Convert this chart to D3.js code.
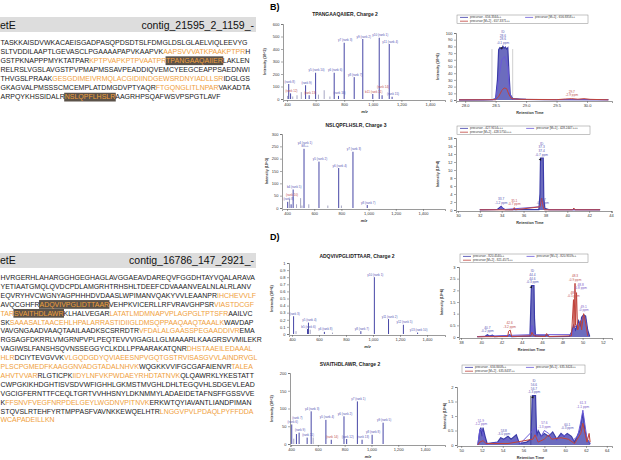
<!DOCTYPE html>
<html><head><meta charset="utf-8">
<script src="https://cdn.jsdelivr.net/npm/d3@7"></script>
<style>
body{margin:0;background:#fff}
svg{display:block}
text{font-family:"Liberation Sans",Arial,Helvetica,sans-serif}
</style>
</head><body>
<svg id="c" width="621" height="460"></svg>
<script>
// ---------------- DATA ----------------
const seqTopHeader = ["etE", "contig_21595_2_1159_-"];
const seqTop = [
  [["TASKKAISDVWKACAEISGADPASQPDSDTSLFDMGLDSLGLAELVIQLEEVYG","k"]],
  [["SLTVDDILAAPTLGEVASCLPGAAAAPAPVKAAPVK","k"],["AAPSVVVATKPAAKPTPR","o"],["H","k"]],
  [["GSTPKNAPPPMYKTATPAR","k"],["KPTPVAPKPTPVAATPR","o"],["TPANGAAQAIIER","h"],["LAKLEN","k"]],
  [["RELRSLVGSLAVGSTPVPMAPMSSAVPEADDIQVEMCYEEGCEAPPSAEDNWI","k"]],
  [["THVGSLPRAAK","k"],["GESGDIMEIVRMQLACGIDIINDGEWSRDNYIADLLSR","o"],["IDGLGS","k"]],
  [["GKAGVALPMSSSCMCEMPLATDMGDVPTYAQR","k"],["FTGQNGLITLNPAR","o"],["VAKADTA","k"]],
  [["ARPQYKHSSIDALR","k"],["NSLQPFLHSLR","h"],["AAGRHPSQAFWSVPSPGTLAVF","k"]]
];
const seqBotHeader = ["etE", "contig_16786_147_2921_-"];
const seqBot = [
  [["HVRGERHLAHARGGHGEGHAGLAVGGAEAVDAREQVFGGDHTAYVQALARAVA","k"]],
  [["YETIAATGMQLQVDCPDLAMGRHTRHSHLTDEEFCDVAAANVEALNLALRLANV","k"]],
  [["EQVRYHVCWGNYAGPHHHDVDAASLWPIMANVQAKYVVLEAANPR","k"],["IHCHEVVLF","o"]],
  [["AVQCGHFR","k"],["ADQVIVPGLIDTTAAR","h"],["VEHPKVICERLLRFVRAVGHPSR","k"],["VIASTDCGF","o"]],
  [["TAR","o"],["SVAITHDLAWR","h"],["KLHALVEGAR","k"],["LATATLMDMNAPVPLAGPGLTPTSFR","o"],["AAILVC","k"]],
  [["SK","k"],["SAAASALTAACEHLHPALARRASTIDIIGLDMSQPPAAQAAQTAAALK","o"],["WAVDAP","k"]],
  [["VAVGNGAADVAAQTAAILAADKSCSRRDTR","k"],["VFDALALGAASSPEGAADDIVR","o"],["EMA","k"]],
  [["RGSAGFDKRRLVMGRNPVPLPEQTEVVVIGAGLLGLMAAARLKAAGRSVVMILEKR","k"]],
  [["VAGIWSLFANSHSQVNSSEGGYCLKDLLPPAARAKATQNR","k"],["DHSTAAEILEDAAAL","o"]],
  [["HLR","o"],["DCIYTEVGVVK","k"],["VLGQDGDYQVIAEESNPVGQTGSTRVISASGVVLAINDRVGL","o"]],
  [["PLSCPGMEDFKAAGGNVADGTADALNHVK","o"],["WQGKKVVIFGCGAFAIENVR","k"],["TALEA","o"]],
  [["AHVTVVAR","o"],["RLGTICPK","k"],["IIDYLNFVKPWDAEYRHDTATNVK","o"],["QLQAWRKLYKESTATT","k"]],
  [["CWPGKIKHDGHTISVSDVWFIGHHLGKMSTMVGHLDHLTEGQVHLSDGEVLEAD","k"]],
  [["VGCIGFERNTTFCEQLTGRTVVHHSNYLDKNMMYLADAEIDETAFNSFFGSSVVE","k"]],
  [["K","k"],["FFSNVFVEGFNRPDELGEYLWGDNVPITNVK","o"],["ERKWTQYIAVANTLIANDPIMAN","k"]],
  [["STQVSLRTEHFYRTMPPASFVAVNKKEWQELHTR","k"],["LNGGVPVLPDAQLPYFFDDA","o"]],
  [["WCAPADEILLKN","o"]]
];

// Spectra peaks: [m/z, intensity, label, label colour kind]
const specB1Title = "TPANGAAQAIIER, Charge 2";
const specB1Peaks = [
  [404, 25, "", ""], [412, 120, "(rank 8)", "b"], [425, 45, "(rank 12)", "r"], [440, 20, "", ""],
  [470, 30, "", ""], [500, 55, "", ""], [530, 110, "(rank 9)", "b"], [555, 30, "(rank 13)", "r"],
  [600, 210, "y5 (rank 10)", "b"], [620, 35, "", ""], [660, 70, "", ""], [700, 20, "", ""],
  [730, 210, "y6 (rank 6)", "b"], [760, 25, "(rank 16)", "b"], [800, 450, "y7 (rank 3)", "b"],
  [870, 175, "y8 (rank 7)", "b"], [930, 480, "y9 (rank 2)", "b"], [1000, 40, "b11 (rank 11)", "r"],
  [1045, 490, "y10 (rank 1)", "b"], [1065, 30, "(rank 14)", "r"], [1115, 440, "y11 (rank 4)", "b"],
  [1135, 18, "(rank 15)", "b"]
];
const specB2Title = "NSLQPFLHSLR, Charge 3";
const specB2Peaks = [
  [405, 25, "(rank 8)", "b"], [418, 35, "", ""], [430, 15, "(rank 10)", "r"], [445, 75, "b4 (rank 5)", "b"],
  [470, 15, "", ""], [500, 40, "", ""], [510, 10, "", ""], [525, 240, "y4 (rank 1)\nb8++", "b"],
  [560, 15, "", ""], [635, 188, "y5 (rank 2)", "b"], [700, 10, "", ""], [780, 162, "y6 (rank 4)", "b"],
  [800, 10, "", ""], [885, 228, "y7 (rank 3)", "b"], [990, 12, "y8 (rank 7)", "b"]
];
const specD1Title = "ADQVIVPGLIDTTAAR, Charge 2";
const specD1Peaks = [
  [412, 0.25, "(rank 3)", "b"], [430, 0.04, "", ""], [515, 0.07, "b5 (rank 6)", "b"], [522, 0.16, "y5 (rank 4)", "b"],
  [535, 0.06, "", ""], [640, 0.03, "y6 (rank 8)", "b"], [700, 0.02, "", ""], [910, 0.04, "y8 (rank 7)", "b"],
  [1010, 0.8, "y10 (rank 1)", "b"], [1115, 0.21, "y11 (rank 2)", "b"], [1225, 0.13, "y12 (rank 5)", "b"],
  [1330, 0.02, "y13 (rank 10)", "b"]
];
const specD2Title = "SVAITHDLAWR, Charge 2";
const specD2Peaks = [
  [405, 55, "(rank 6)", "b"], [420, 15, "", ""], [440, 28, "(rank 7)", "b"], [460, 32, "(rank 9)", "b"],
  [520, 18, "(rank 11)", "b"], [550, 92, "y4 (rank 3)", "b"], [565, 18, "", ""], [660, 68, "y5 (rank 4)", "b"],
  [700, 12, "(rank 14)", "r"], [795, 78, "y6 (rank 2)", "b"], [815, 14, "(rank 12)", "b"],
  [895, 120, "y7 (rank 1)", "b"], [930, 12, "(rank 13)", "b"], [1005, 26, "y8 (rank 8)", "b"],
  [1087, 60, "y9 (rank 5)", "b"]
];

// Chromatograms: [retention time, intensity]
const chB1Legend = ["precursor - 656.3344++", "precursor [M+2] - 657.3371++", "precursor [M+1] - 656.8358++"];
const chB1Blue = [[27.9,0.3],[28.3,0.3],[28.45,0.5],[28.5,2],[28.53,30],[28.55,75],[28.57,78],[28.6,76],[28.62,80],[28.64,77],[28.66,79],[28.68,76],[28.7,78],[28.72,40],[28.74,8],[28.78,2],[28.9,1.5],[29.0,0.8],[29.3,0.5],[29.7,0.5],[30.0,0.6],[30.35,0.4]];
const chB1Red = [[27.9,0.2],[28.5,0.5],[28.55,5],[28.6,14],[28.64,18],[28.68,17],[28.72,8],[28.76,2],[28.9,1],[29.5,0.5],[29.65,1.5],[29.75,2],[29.85,1.2],[29.95,2],[30.05,1],[30.35,0.3]];
const chB1Purple = [[27.9,0.2],[28.5,0.5],[28.55,30],[28.6,60],[28.65,65],[28.7,50],[28.73,10],[28.78,1],[30.35,0.3]];
const chB1Bounds = [[28.44, 76], [28.78, 76]];
const chB1Notes = [[28.62, 80, ["ID","28.6","28.6","-0.1 ppm"], "b"], [29.75, 2, ["29.7","-2.9 ppm"], "r"]];

const chB2Legend = ["precursor - 427.9154+++", "precursor [M+2] - 428.5750+++", "precursor [M+1] - 428.2447+++"];
const chB2Blue = [[32.0,0.1],[33.6,0.15],[33.85,0.7],[33.95,0.9],[34.1,0.4],[34.3,0.1],[37.4,0.1],[37.5,4],[37.55,13],[37.8,13],[37.85,3],[37.95,0.4],[38.3,0.1],[40.0,0.1],[43.0,0.1]];
const chB2Red = [[32.0,0.05],[35.05,0.05],[35.15,0.6],[35.25,0.05],[37.5,0.8],[37.65,3],[37.8,0.8],[37.9,0.05],[40.5,0.05],[40.6,0.5],[40.7,0.05],[43.0,0.05]];
const chB2Purple = [[32.0,0.05],[33.7,0.1],[33.9,0.6],[34.0,0.7],[34.15,0.1],[37.5,0.8],[37.65,2.8],[37.8,0.8],[37.9,0.1],[43.0,0.05]];
const chB2Bounds = [];
const chB2Notes = [[37.65, 13, ["ID","37.3","37.4","-0.7 ppm"], "b"], [33.95, 0.9, ["33.7","-1.2 ppm"], "b"], [35.15, 0.6, ["35.1","-0.7 ppm"], "r"], [37.75, 0.8, ["37.7","-0.1 ppm"], "b"]];

const chD1Legend = ["precursor - 820.4540++", "precursor [M+2] - 821.4571++", "precursor [M+1] - 820.9559++"];
const chD1Blue = [[39.6,0.02],[40.4,0.03],[40.6,0.1],[40.8,0.04],[41.1,0.08],[41.3,0.02],[42.6,0.05],[42.8,0.1],[43.0,0.02],[44.8,0.05],[44.9,1.5],[44.95,2.2],[45.2,2.2],[45.25,0.8],[45.35,0.05],[46.3,0.05],[46.5,0.1],[46.7,0.02],[48.7,0.03],[48.9,0.2],[49.1,0.5],[49.3,0.3],[49.6,0.7],[49.8,0.5],[49.9,0.85],[50.1,0.95],[50.3,0.9],[50.5,0.3],[50.7,0.02]];
const chD1Red = [[39.6,0.01],[42.6,0.02],[42.7,0.25],[42.85,0.3],[43.0,0.02],[44.9,0.05],[45.0,0.2],[45.2,0.05],[46.3,0.02],[46.45,0.15],[46.6,0.02],[48.9,0.05],[49.1,1.6],[49.15,0.4],[49.25,2.3],[49.3,0.5],[49.4,1.9],[49.5,0.3],[49.6,0.4],[49.8,0.7],[49.9,0.3],[50.1,1.0],[50.3,0.6],[50.5,0.05]];
const chD1Purple = [[39.6,0.02],[44.9,0.1],[45.0,0.5],[45.2,0.1],[49.0,0.1],[49.2,0.4],[49.4,0.5],[49.7,0.6],[49.9,0.7],[50.1,0.9],[50.3,0.7],[50.5,0.05]];
const chD1Bounds = [];
const chD1Notes = [[45.05, 2.2, ["ID","44.4","44.6","-0.3 ppm"], "b"], [49.25, 2.3, ["48.3","-0.9 ppm"], "r"], [49.1, 1.6, ["48.1","-0.5 ppm"], "r"], [50.1, 1.0, ["49.1","-0 ppm"], "p"], [49.8, 0.7, ["48.8","-0.8 ppm"], "p"], [42.8, 0.3, ["42.6","-3.2 ppm"], "r"], [40.6, 0.1, ["40.7","-0.2 ppm"], "b"]];

const chD2Legend = ["precursor - 634.8408++", "precursor [M+2] - 635.8437++", "precursor [M+1] - 635.3424++"];
const chD2Blue = [[51.6,0],[51.8,0.5],[51.9,0.6],[52.0,0.3],[52.1,0.6],[52.3,0.3],[52.5,0.05],[53.5,0.1],[53.8,0.25],[54.1,0.2],[54.5,0.3],[54.8,0.2],[55.3,0.35],[55.6,0.05],[56.3,0.1],[56.7,0.2],[56.85,1.7],[57.15,1.7],[57.25,0.3],[57.4,0.5],[57.7,0.3],[58.0,0.4],[58.4,0.3],[58.8,0.45],[59.2,0.2],[59.6,0.4],[59.9,0.3],[60.2,0.4],[60.6,0.3],[60.9,0.1],[61.4,0.5],[61.7,1.1],[61.9,0.5],[62.1,0.2],[62.4,0.05]];
const chD2Red = [[51.6,0],[51.8,0.1],[52.1,0.15],[52.4,0.05],[54.5,0.05],[56.9,0.2],[57.1,0.35],[57.4,0.1],[58.0,0.2],[58.4,0.35],[58.7,0.2],[59.6,0.25],[60.3,0.2],[60.9,0.05],[61.5,0.4],[61.7,0.75],[61.9,0.4],[62.1,0.1],[62.3,0.4],[62.4,0.1]];
const chD2Purple = [[51.6,0],[51.8,0.55],[52.0,0.5],[52.2,0.2],[52.4,0.02],[53.8,0.1],[54.3,0.2],[54.8,0.1],[55.3,0.2],[55.6,0.02],[56.9,0.5],[57.1,0.6],[57.3,0.1],[57.7,0.3],[58.0,0.5],[58.4,0.4],[58.7,0.3],[59.2,0.15],[59.7,0.35],[60.2,0.3],[60.7,0.15],[61.2,0.3],[61.5,0.8],[61.7,1.2],[61.9,0.7],[62.1,0.2],[62.4,0.05]];
const chD2Bounds = [[56.7, 1.7]];
const chD2Notes = [[57.0, 1.7, ["ID","56.6","56.7","-1.3 ppm"], "b"], [51.9, 0.6, ["51.9","-1.2 ppm"], "p"], [54.1, 0.25, ["53.8","-3.0 ppm"], "b"], [61.7, 1.2, ["61.3","-1.1 ppm"], "p"], [60.2, 0.45, ["60.1","-0.3 ppm"], "b"], [58.0, 0.5, ["57.6","-1.3 ppm"], "p"]];

const panelLabels = ["B)", "D)"];

// ---------------- DRAWING ----------------
const svg = d3.select("#c");
const ORANGE = "#f0a03c", HILITE = "#5b5249";
const C = {b: "#3b3ba8", r: "#c0433b", p: "#6a5ad8"};
const LBL = {b: "#5454b4", r: "#c05050", p: "#7a5ac8"};

function drawSeq(header, lines, barY0, barY1, hdrBase, firstBase, step, targetEnd) {
  const g = svg.append("g");
  g.append("rect").attr("x", 0).attr("y", barY0).attr("width", 256).attr("height", barY1 - barY0).attr("fill", "#dddddd");
  g.append("text").attr("x", 0).attr("y", hdrBase).attr("font-size", 10.5).attr("fill", "#111").text(header[0]);
  g.append("text").attr("x", 254).attr("y", hdrBase).attr("font-size", 10.5).attr("fill", "#111").attr("text-anchor", "end").text(header[1]);
  const texts = lines.map((segs, i) => {
    const t = g.append("text").attr("x", 0.5).attr("y", firstBase + i * step).attr("font-size", 7);
    segs.forEach(s => t.append("tspan").text(s[0]).attr("fill", s[1] === "k" ? "#1a1a1a" : ORANGE));
    return t;
  });
  const L = texts[0].node().getComputedTextLength();
  const fs = 7 * (targetEnd - 0.5) / L;
  texts.forEach(t => t.attr("font-size", fs));
  texts.forEach((t, i) => {
    let idx = 0;
    lines[i].forEach(s => {
      if (s[1] === "h") {
        const n = t.node();
        const x0 = n.getStartPositionOfChar(idx).x;
        const x1 = n.getEndPositionOfChar(idx + s[0].length - 1).x;
        g.insert("rect", () => n).attr("x", x0 - 0.5).attr("y", firstBase + i * step - fs * 0.95)
          .attr("width", x1 - x0 + 1).attr("height", fs * 1.25).attr("fill", HILITE);
      }
      idx += s[0].length;
    });
  });
}

drawSeq(seqTopHeader, seqTop, 17, 32, 28.5, 44.8, 9.1, 248);
drawSeq(seqBotHeader, seqBot, 253, 268, 264, 280, 8.9, 255);

svg.selectAll("text.pl").data(panelLabels).join("text").attr("class", "pl")
  .attr("x", 270).attr("y", (d, i) => i ? 240 : 10).attr("font-size", 9).attr("font-weight", "bold").text(d => d);

function styleAxis(a) {
  a.select(".domain").attr("stroke", "#555").attr("stroke-width", 0.6);
  a.selectAll(".tick line").attr("stroke", "#555").attr("stroke-width", 0.5);
  a.selectAll(".tick text").attr("font-size", 4).attr("fill", "#333").attr("font-family", "Liberation Sans, Arial, sans-serif");
}

// shift a label group upward until it no longer overlaps labels already placed
function avoid(gsel, placed) {
  const bb = gsel.node().getBBox();
  let dy = 0;
  const hit = () => placed.some(p => bb.x < p.x + p.w && bb.x + bb.width > p.x &&
    bb.y + dy < p.y + p.h && bb.y + dy + bb.height > p.y);
  for (let it = 0; it < 60 && hit(); it++) dy -= 1;
  gsel.attr("transform", `translate(0,${dy})`);
  placed.push({x: bb.x, y: bb.y + dy, w: bb.width, h: bb.height});
}

function spectrum(o, title, peaks) {
  const g = svg.append("g");
  const x = d3.scaleLinear().domain(o.dom).range(o.x);
  const y = d3.scaleLinear().domain(o.ydom).range(o.y);
  const ax = g.append("g").attr("transform", `translate(0,${o.y[0] + 1})`)
    .call(d3.axisBottom(x).tickValues([400, 600, 800, 1000, 1200, 1400]).tickSize(2).tickPadding(1.5));
  styleAxis(ax);
  const ay = g.append("g").attr("transform", `translate(${o.x[0]},0)`)
    .call(d3.axisLeft(y).tickValues(o.yt).tickSize(2).tickPadding(1.5).tickFormat(d3.format("~g")));
  styleAxis(ay);
  g.selectAll("line.pk").data(peaks).join("line").attr("class", "pk")
    .attr("x1", d => x(d[0])).attr("x2", d => x(d[0])).attr("y1", y(0)).attr("y2", d => y(d[1]))
    .attr("stroke", d => d[2] ? "#4646a6" : "#6a6a9a").attr("stroke-width", d => d[2] ? 1 : 0.6);
  const placed = [];
  peaks.filter(d => d[2]).slice().sort((a, b) => b[1] - a[1]).forEach(d => {
    const parts = d[2].split("\n");
    const lg = g.append("g");
    parts.forEach((p, k) => {
      lg.append("text").attr("x", x(d[0]) + 1).attr("y", y(d[1]) - 1.5 - (parts.length - 1 - k) * 3.3)
        .attr("font-size", 3).attr("text-anchor", "middle").attr("fill", LBL[d[3]]).text(p);
    });
    avoid(lg, placed);
  });
  g.append("text").attr("x", o.tx).attr("y", o.ty).attr("font-size", 5).attr("font-weight", "bold")
    .attr("text-anchor", "middle").attr("fill", "#222").text(title);
  g.append("text").attr("x", (o.x[0] + 430) / 2 + 8).attr("y", o.y[0] + 14).attr("font-size", 4)
    .attr("font-weight", "bold").attr("font-style", "italic").attr("text-anchor", "middle").attr("fill", "#333").text("m/z");
  g.append("text").attr("transform", `translate(${o.lx},${(o.y[0] + o.y[1]) / 2}) rotate(-90)`)
    .attr("font-size", 3.6).attr("font-weight", "bold").attr("text-anchor", "middle").attr("fill", "#333").text(o.ylab);
}

spectrum({x: [283, 445], dom: [372, 1505], y: [99, 24], ydom: [0, 600], yt: d3.range(0, 601, 100), tx: 345, ty: 16, lx: 266, ylab: "Intensity (10^3)"}, specB1Title, specB1Peaks);
spectrum({x: [282, 445], dom: [363, 1562], y: [208, 134], ydom: [0, 300], yt: d3.range(0, 301, 50), tx: 356, ty: 127, lx: 268, ylab: "Intensity (10^3)"}, specB2Title, specB2Peaks);
spectrum({x: [289, 445], dom: [378, 1533], y: [334, 263], ydom: [0, 1], yt: d3.range(11).map(i => i / 10), tx: 357, ty: 258, lx: 273, ylab: "Intensity (10^6)"}, specD1Title, specD1Peaks);
spectrum({x: [290, 445], dom: [392, 1549], y: [444, 373], ydom: [0, 200], yt: d3.range(0, 201, 50), tx: 350, ty: 366, lx: 273, ylab: "Intensity (10^3)"}, specD2Title, specD2Peaks);

function chrom(o, legendTxt, blue, red, purple, bounds, notes) {
  const g = svg.append("g");
  const x = d3.scaleLinear().domain(o.dom).range(o.x);
  const y = d3.scaleLinear().domain(o.ydom).range(o.y);
  const ax = g.append("g").attr("transform", `translate(0,${o.y[0] + 1})`)
    .call(d3.axisBottom(x).tickValues(o.xt).tickSize(2).tickPadding(1.5).tickFormat(o.xf));
  styleAxis(ax);
  const ay = g.append("g").attr("transform", `translate(${o.x[0]},0)`)
    .call(d3.axisLeft(y).tickValues(o.yt).tickSize(2).tickPadding(1.5).tickFormat(d3.format("~g")));
  styleAxis(ay);
  bounds.forEach(b => g.append("line").attr("x1", x(b[0])).attr("x2", x(b[0])).attr("y1", y(0)).attr("y2", y(b[1]))
    .attr("stroke", o.bc).attr("stroke-width", 0.7));
  const line = d3.line().x(d => x(d[0])).y(d => y(d[1]));
  const area = d3.area().x(d => x(d[0])).y0(y(0)).y1(d => y(d[1]));
  g.append("path").datum(blue).attr("d", area).attr("fill", C.b).attr("fill-opacity", 0.75);
  g.append("path").datum(blue).attr("d", line).attr("fill", "none").attr("stroke", C.b).attr("stroke-width", 1.2);
  g.append("path").datum(purple).attr("d", line).attr("fill", "none").attr("stroke", C.p).attr("stroke-width", 1);
  g.append("path").datum(red).attr("d", line).attr("fill", "none").attr("stroke", C.r).attr("stroke-width", 1);
  const placed = [];
  notes.slice().sort((a, b) => b[1] - a[1]).forEach(n => {
    const px = x(n[0]), py = y(n[1]);
    const k = n[2].length;
    const lg = g.append("g");
    n[2].forEach((s, i) => {
      lg.append("text").attr("x", px).attr("y", py - 2.5 - (k - 1 - i) * 3.6)
        .attr("font-size", 3.2).attr("text-anchor", "middle").attr("fill", LBL[n[3]]).text(s);
    });
    avoid(lg, placed);
    if (n[2][0] === "ID") {
      g.append("path").attr("d", `M${px - 3},${py + 1.5}l2.5,-1.2l0,2.4z`).attr("fill", "#111");
    }
  });
  // legend
  const [lx, ly, lw] = o.leg;
  g.append("rect").attr("x", lx).attr("y", ly).attr("width", lw).attr("height", 8.5)
    .attr("fill", "#fff").attr("stroke", "#888").attr("stroke-width", 0.5);
  const ent = [[lx + 3, ly + 3.4, C.b, legendTxt[0]], [lx + 3, ly + 7.2, C.r, legendTxt[1]], [lx + lw * 0.52, ly + 3.4, C.p, legendTxt[2]]];
  ent.forEach(e => {
    g.append("line").attr("x1", e[0]).attr("x2", e[0] + 8).attr("y1", e[1] - 1).attr("y2", e[1] - 1)
      .attr("stroke", e[2]).attr("stroke-width", 0.8);
    g.append("text").attr("x", e[0] + 10).attr("y", e[1]).attr("font-size", 3).attr("fill", "#333").text(e[3]);
  });
  g.append("text").attr("x", (o.x[0] + o.x[1]) / 2 - 4).attr("y", o.y[0] + 13.5).attr("font-size", 3.8)
    .attr("font-weight", "bold").attr("text-anchor", "middle").attr("fill", "#333").text("Retention Time");
  g.append("text").attr("transform", `translate(${o.lx},${(o.y[0] + o.y[1]) / 2}) rotate(-90)`)
    .attr("font-size", 3.6).attr("font-weight", "bold").attr("text-anchor", "middle").attr("fill", "#333").text(o.ylab);
}

chrom({x: [456, 612], dom: [27.85, 30.41], y: [100, 33], ydom: [0, 100], yt: d3.range(0, 101, 10),
  xt: [28, 28.5, 29, 29.5, 30], xf: d3.format(".1f"), leg: [457, 15, 131], lx: 439, ylab: "Intensity (10^6)", bc: "#bbb"},
  chB1Legend, chB1Blue, chB1Red, chB1Purple, chB1Bounds, chB1Notes);
chrom({x: [456, 612], dom: [29.82, 44.09], y: [210, 138], ydom: [0, 18], yt: d3.range(0, 19, 2),
  xt: d3.range(30, 45, 2), xf: d3.format("d"), leg: [457, 126, 133], lx: 439, ylab: "Intensity (10^4)", bc: "#bbb"},
  chB2Legend, chB2Blue, chB2Red, chB2Purple, chB2Bounds, chB2Notes);
chrom({x: [459, 612], dom: [37.8, 52.9], y: [337, 267], ydom: [0, 3], yt: d3.range(7).map(i => i / 2),
  xt: d3.range(38, 53, 2), xf: d3.format("d"), leg: [460, 254, 128], lx: 443, ylab: "Intensity (10^6)", bc: "#bbb"},
  chD1Legend, chD1Blue, chD1Red, chD1Purple, chD1Bounds, chD1Notes);
chrom({x: [457, 612], dom: [49.6, 64.5], y: [445, 387], ydom: [0, 2], yt: d3.range(5).map(i => i / 2),
  xt: d3.range(50, 65, 2), xf: d3.format("d"), leg: [462, 365, 123], lx: 446, ylab: "Intensity (10^6)", bc: "#222"},
  chD2Legend, chD2Blue, chD2Red, chD2Purple, chD2Bounds, chD2Notes);
</script>
</body></html>
